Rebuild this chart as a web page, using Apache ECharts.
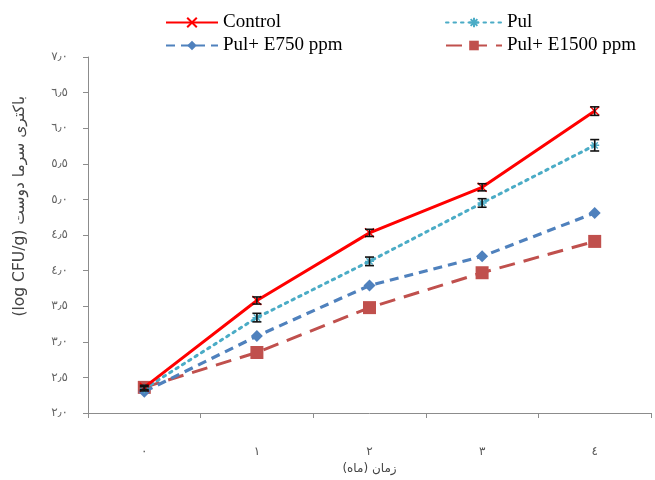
<!DOCTYPE html>
<html>
<head>
<meta charset="utf-8">
<script src="https://cdn.jsdelivr.net/npm/echarts@6/dist/echarts.min.js"></script>
<style>
html,body{margin:0;padding:0;background:#fff;}
#c{width:655px;height:480px;}
</style>
</head>
<body>
<div id="c"></div>
<script>
const categories = ['٠', '١', '٢', '٣', '٤'];
const yTickValues = [2.0, 2.5, 3.0, 3.5, 4.0, 4.5, 5.0, 5.5, 6.0, 6.5, 7.0];
const yTickLabels = ['٢٫٠', '٢٫٥', '٣٫٠', '٣٫٥', '٤٫٠', '٤٫٥', '٥٫٠', '٥٫٥', '٦٫٠', '٦٫٥', '٧٫٠'];
const seriesNames = ['Control', 'Pul', 'Pul+ E750 ppm', 'Pul+ E1500 ppm'];
const control = [2.36, 3.58, 4.53, 5.17, 6.24];
const controlErr = [0.03, 0.05, 0.05, 0.05, 0.06];
const pul = [2.34, 3.34, 4.13, 4.95, 5.76];
const pulErr = [0.03, 0.06, 0.06, 0.06, 0.08];
const e750 = [2.30, 3.08, 3.79, 4.20, 4.81];
const e1500 = [2.36, 2.85, 3.48, 3.97, 4.41];
const xTitle = 'زمان (ماه)';
const yTitle = '(log CFU/g) باکتری سرما دوست';

const chart = echarts.init(document.getElementById('c'), null, {renderer: 'canvas'});

function errData(vals, errs) {
  return vals.map((v, i) => [i, v - errs[i], v + errs[i]]);
}
function errSeries(vals, errs) {
  return {
    type: 'custom',
    silent: true,
    z: 5,
    data: errData(vals, errs),
    renderItem: function (params, api) {
      const x = api.value(0);
      const lo = api.coord([x, api.value(1)]);
      const hi = api.coord([x, api.value(2)]);
      const w = 4.5;
      const st = {stroke: '#111', lineWidth: 1.6};
      return {
        type: 'group',
        children: [
          {type: 'line', shape: {x1: lo[0], y1: lo[1], x2: hi[0], y2: hi[1]}, style: st},
          {type: 'line', shape: {x1: lo[0] - w, y1: lo[1], x2: lo[0] + w, y2: lo[1]}, style: st},
          {type: 'line', shape: {x1: hi[0] - w, y1: hi[1], x2: hi[0] + w, y2: hi[1]}, style: st}
        ]
      };
    }
  };
}

const xSym = 'path://M0,0L10,10M10,0L0,10';
const starSym = 'path://M5,0L5,10M0,5L10,5M1.5,1.5L8.5,8.5M8.5,1.5L1.5,8.5';

const legendText = {fontFamily: 'Liberation Serif', fontSize: 19, color: '#000'};

const option = {
  backgroundColor: '#fff',
  animation: false,
  grid: {left: 88, right: 4, top: 57, bottom: 66, containLabel: false},
  legend: [
    {
      orient: 'vertical', left: 160, top: 8, itemGap: 4, itemWidth: 52, itemHeight: 12,
      textStyle: legendText, data: [seriesNames[0], seriesNames[2]]
    },
    {
      orient: 'vertical', left: 440, top: 8, itemGap: 4, itemWidth: 56, itemHeight: 12,
      textStyle: legendText, data: [seriesNames[1], seriesNames[3]]
    }
  ],
  xAxis: {
    type: 'category',
    data: categories,
    boundaryGap: true,
    name: xTitle,
    nameLocation: 'middle',
    nameGap: 50,
    nameTextStyle: {fontFamily: 'DejaVu Sans', fontSize: 12, color: '#444'},
    axisLine: {lineStyle: {color: '#8c8c8c', width: 1}},
    axisTick: {show: true, inside: false, length: 5, lineStyle: {color: '#8c8c8c'}},
    axisLabel: {margin: 33, fontFamily: 'DejaVu Sans', fontSize: 12, color: '#555'},
    splitLine: {show: false}
  },
  yAxis: {
    type: 'value',
    min: 2, max: 7, interval: 0.5,
    axisLine: {show: true, lineStyle: {color: '#8c8c8c', width: 1}},
    axisTick: {show: true, inside: false, length: 5, lineStyle: {color: '#8c8c8c'}},
    axisLabel: {
      margin: 20, fontFamily: 'DejaVu Sans', fontSize: 12, color: '#666',
      formatter: function (v) {
        const i = yTickValues.findIndex(t => Math.abs(t - v) < 1e-6);
        return i >= 0 ? yTickLabels[i] : '';
      }
    },
    splitLine: {show: false}
  },
  graphic: [
    {
      type: 'text',
      left: 12, top: 96,
      rotation: Math.PI / 2,
      style: {text: yTitle, fontFamily: 'DejaVu Sans', fontSize: 15.5, fill: '#444'},
      z: 10
    }
  ],
  series: [
    {
      name: seriesNames[3], type: 'line', data: e1500, z: 2,
      symbol: 'rect', symbolSize: 13,
      itemStyle: {color: '#C0504D'},
      lineStyle: {color: '#C0504D', width: 3, type: [16, 9]}
    },
    {
      name: seriesNames[2], type: 'line', data: e750, z: 3,
      symbol: 'diamond', symbolSize: 12,
      itemStyle: {color: '#4F81BD'},
      lineStyle: {color: '#4F81BD', width: 3.2, type: [9, 6]}
    },
    {
      name: seriesNames[1], type: 'line', data: pul, z: 3,
      symbol: starSym, symbolSize: 9,
      itemStyle: {color: '#4BACC6', borderColor: '#4BACC6', borderWidth: 1.4},
      lineStyle: {color: '#4BACC6', width: 3, type: [2.5, 5], cap: 'round'}
    },
    {
      name: seriesNames[0], type: 'line', data: control, z: 4,
      symbol: xSym, symbolSize: 9,
      itemStyle: {color: '#FF0000', borderColor: '#FF0000', borderWidth: 1.4},
      lineStyle: {color: '#FF0000', width: 3}
    },
    errSeries(pul, pulErr),
    errSeries(control, controlErr)
  ]
};
chart.setOption(option);
</script>
</body>
</html>
